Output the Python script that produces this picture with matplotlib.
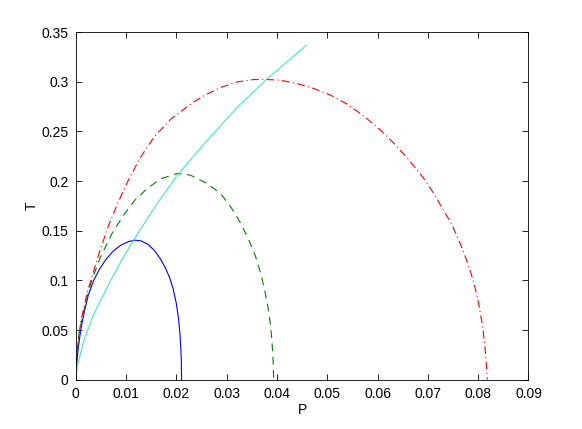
import matplotlib
matplotlib.use("Agg")
import matplotlib.pyplot as plt

# values
blue_p = [0.0, 0.0002, 0.0005, 0.0010, 0.0017, 0.0025, 0.0035, 0.0047, 0.0060,
          0.0075, 0.0090, 0.0105, 0.0118, 0.0130, 0.0143, 0.0156, 0.0168, 0.0178,
          0.0187, 0.0194, 0.0200, 0.0204, 0.0207, 0.0209, 0.0210, 0.02105]
blue_t = [0.0, 0.016, 0.031, 0.050, 0.068, 0.085, 0.099, 0.111, 0.1210,
          0.1297, 0.1355, 0.1391, 0.1405, 0.1398, 0.1365, 0.1304, 0.1220, 0.1130,
          0.1025, 0.0910, 0.0770, 0.0630, 0.0480, 0.0320, 0.0200, 0.0]

green_p = [0.0, 0.00016, 0.00066, 0.00165, 0.0030, 0.0048, 0.0072, 0.0095, 0.0117,
           0.0142, 0.0170, 0.0202, 0.0228, 0.0261, 0.0288, 0.0307, 0.0327, 0.0344,
           0.0357, 0.0367, 0.0375, 0.0382, 0.0387, 0.0390, 0.0392, 0.0393, 0.03935]
green_t = [0.0, 0.0166, 0.0465, 0.0700, 0.0969, 0.1220, 0.1470, 0.1655, 0.1805,
           0.1925, 0.2025, 0.2077, 0.2060, 0.1976, 0.1875, 0.1750, 0.1585, 0.1410,
           0.1250, 0.1085, 0.0920, 0.0740, 0.0560, 0.0400, 0.0240, 0.0120, 0.0]

red_p = [0.0, 0.0001, 0.0004, 0.0010, 0.0023, 0.00464, 0.0063, 0.00829, 0.01062,
         0.01295, 0.0156, 0.01892, 0.02323, 0.02556, 0.0288, 0.0321, 0.0354, 0.0374,
         0.0407, 0.0440, 0.0473, 0.0507, 0.0540, 0.0573, 0.0606, 0.0633, 0.0663,
         0.0692, 0.0712, 0.0729, 0.0746, 0.0762, 0.0776, 0.0786, 0.0795, 0.0802,
         0.0809, 0.0813, 0.0816, 0.0818]
red_t = [0.0, 0.011, 0.034, 0.058, 0.088, 0.127, 0.152, 0.177, 0.2025,
         0.2245, 0.2445, 0.2625, 0.2790, 0.2862, 0.2943, 0.2999, 0.3023, 0.3025,
         0.3016, 0.2983, 0.2933, 0.2865, 0.2774, 0.2655, 0.2513, 0.2379, 0.2210,
         0.2026, 0.1875, 0.1724, 0.1580, 0.1400, 0.1220, 0.1070, 0.0905, 0.0740,
         0.0530, 0.0360, 0.0180, 0.0]

cyan_p = [0.0, 0.00036, 0.00165, 0.00365, 0.0063, 0.0090, 0.0115, 0.0160,
          0.0202, 0.0256, 0.0320, 0.0381, 0.0459]
cyan_t = [0.0, 0.0146, 0.0398, 0.0667, 0.0935, 0.1190, 0.1405, 0.1760,
          0.2060, 0.2379, 0.2737, 0.3033, 0.3369]

x_ticks = [0, 0.01, 0.02, 0.03, 0.04, 0.05, 0.06, 0.07, 0.08, 0.09]
y_ticks = [0, 0.05, 0.1, 0.15, 0.2, 0.25, 0.3, 0.35]
x_labels = ["0", "0.01", "0.02", "0.03", "0.04", "0.05", "0.06", "0.07", "0.08", "0.09"]
y_labels = ["0", "0.05", "0.1", "0.15", "0.2", "0.25", "0.3", "0.35"]

plt.rcParams["font.family"] = ["Liberation Sans", "DejaVu Sans"]
plt.rcParams["font.size"] = 10

fig = plt.figure(figsize=(5.82, 4.29), dpi=100)
ax = fig.add_axes([0.130, 0.115, 0.778, 0.81])

lw = 0.8
ax.plot(blue_p, blue_t, color="#0000ff", lw=lw)
ax.plot(green_p, green_t, color="#008000", lw=lw, dashes=(7, 5))
ax.plot(red_p, red_t, color="#ff0000", lw=lw, dashes=(7, 3, 1, 3))
ax.plot(cyan_p, cyan_t, color="#40eab4", lw=lw)

ax.set_xlim(0, 0.09)
ax.set_ylim(0, 0.35)
ax.set_xticks(x_ticks)
ax.set_xticklabels(x_labels)
ax.set_yticks(y_ticks)
ax.set_yticklabels(y_labels)
ax.tick_params(direction="in", top=True, right=True, length=4, width=0.6, pad=5)
for s in ax.spines.values():
    s.set_linewidth(0.6)
ax.set_xlabel("P", labelpad=2)
ax.set_ylabel("T", labelpad=2)

fig.savefig("out.png", dpi=100)
